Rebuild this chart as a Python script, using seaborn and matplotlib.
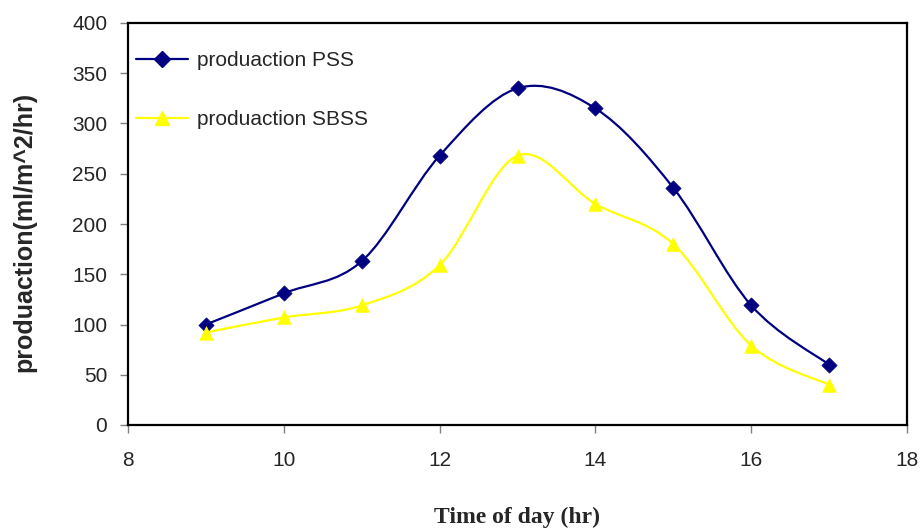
import matplotlib
matplotlib.use("Agg")
import matplotlib.pyplot as plt
import seaborn as sns
import numpy as np
import pandas as pd
from matplotlib.path import Path
from matplotlib.patches import PathPatch
from matplotlib.lines import Line2D

hours = [9, 10, 11, 12, 13, 14, 15, 16, 17]
pss = [100, 131, 163, 268, 335, 315, 236, 119, 60]
sbss = [92, 107, 119, 159, 268, 220, 180, 79, 40]
series_names = ["produaction PSS", "produaction SBSS"]
x_ticks = [8, 10, 12, 14, 16, 18]
y_ticks = [0, 50, 100, 150, 200, 250, 300, 350, 400]

sns.set_style("white")
plt.rcParams["font.family"] = ["Liberation Sans", "DejaVu Sans"]

fig = plt.figure(figsize=(9.23, 5.29), dpi=100)
ax = fig.add_axes([128 / 923, 1 - 425 / 529, (907 - 128) / 923, (425 - 23) / 529])

colors = ["#000080", "#FFFF00"]
markers = ["D", "^"]
sizes = [60, 95]


def smooth_path(xs, ys):
    # Bezier curve through the data points (smoothed line rendering)
    pts = np.column_stack([xs, ys]).astype(float)
    n = len(pts)
    verts = [pts[0]]
    codes = [Path.MOVETO]
    for i in range(n - 1):
        p0 = pts[i - 1] if i > 0 else pts[i]
        p1 = pts[i]
        p2 = pts[i + 1]
        p3 = pts[i + 2] if i + 2 < n else pts[i + 1]
        c1 = p1 + (p2 - p0) / 6.0
        c2 = p2 - (p3 - p1) / 6.0
        verts += [c1, c2, p2]
        codes += [Path.CURVE4] * 3
    return Path(verts, codes)


df = pd.DataFrame({
    "hour": hours * 2,
    "value": pss + sbss,
    "series": [series_names[0]] * len(hours) + [series_names[1]] * len(hours),
})

handles = []
for name, vals, c, m, s in zip(series_names, [pss, sbss], colors, markers, sizes):
    patch = PathPatch(smooth_path(hours, vals), facecolor="none", edgecolor=c, lw=1.6, zorder=2)
    ax.add_patch(patch)
    sub = df[df["series"] == name]
    sns.scatterplot(data=sub, x="hour", y="value", marker=m, s=s, color=c,
                    edgecolor=c, linewidth=0.5, ax=ax, zorder=3, legend=False)
    handles.append(Line2D([0], [0], color=c, lw=1.6, marker=m,
                          markersize=8 if m == "D" else 10, markeredgecolor=c))

ax.set_xlim(8, 18)
ax.set_ylim(0, 400)
ax.set_xticks(x_ticks)
ax.set_yticks(y_ticks)
ax.tick_params(axis="both", labelsize=15, length=6, width=1, color="#808080",
               direction="out", bottom=True, left=True)
ax.tick_params(axis="y", pad=9)
ax.tick_params(axis="x", pad=13)
for sp in ax.spines.values():
    sp.set_color("black")
    sp.set_linewidth(1.6)
    sp.set_visible(True)

ax.set_xlabel("Time of day (hr)", fontsize=17, fontweight="bold",
              family=["Liberation Serif", "DejaVu Serif"], labelpad=26)
ax.set_ylabel("produaction(ml/m^2/hr)", fontsize=18, fontweight="bold")
ax.yaxis.set_label_coords(-0.118, 0.48)

leg = ax.legend(handles, series_names, loc="upper left", bbox_to_anchor=(0.0, 0.95),
                frameon=False, fontsize=15, labelspacing=1.9, handlelength=2.5,
                handletextpad=0.4, borderaxespad=0.0)

fig.savefig("out.png", dpi=100)
